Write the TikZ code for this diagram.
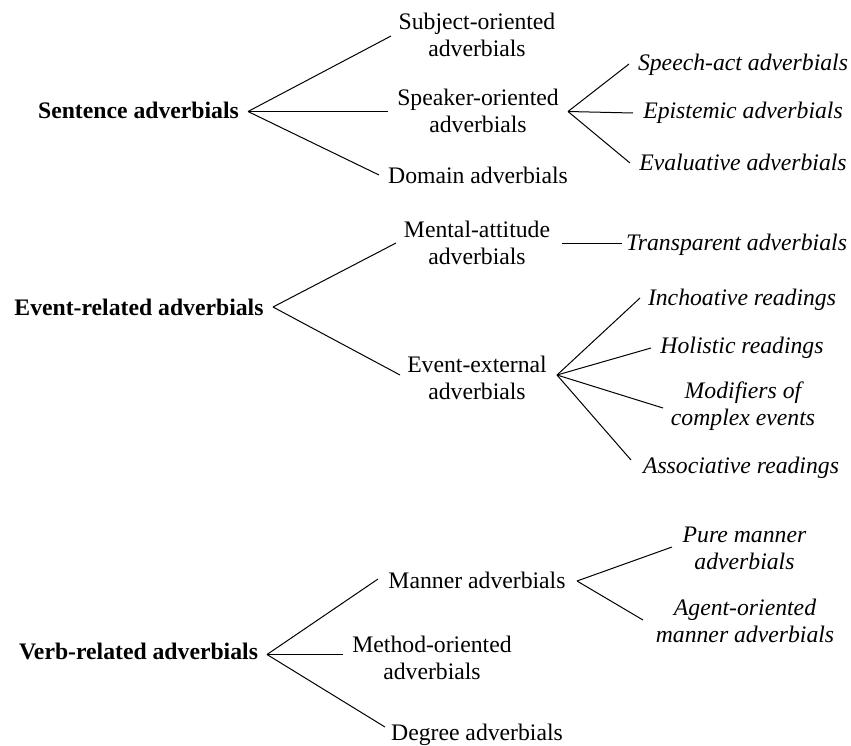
\documentclass[tikz,border=0pt]{standalone}
\usepackage{fontspec}
\setmainfont{Liberation Serif}
\usetikzlibrary{calc}
\newcommand{\twoline}[2]{\begin{tabular}[t]{@{}c@{}}#1\\#2\end{tabular}}
\begin{document}
\begin{tikzpicture}[x=0.5pt,y=-0.5pt,
  lbl/.style={anchor=base,inner sep=0pt,font=\fontsize{11.85}{13.75}\selectfont},
  root/.style={lbl,font=\fontsize{11.85}{13.75}\selectfont\bfseries},
  it/.style={lbl,font=\fontsize{11.85}{13.75}\selectfont\itshape},
  edge/.style={line width=0.5pt}]
\useasboundingbox (0,0) rectangle (851,745);
% nodes
\node[root] (sent) at (138.5,118) {Sentence adverbials};
\node[lbl] (subj) at (477,29) {\twoline{Subject-oriented}{adverbials}};
\node[lbl] (speak) at (478,105) {\twoline{Speaker-oriented}{adverbials}};
\node[lbl] (domain) at (478,183) {Domain adverbials};
\node[it] (speech) at (743,70) {Speech-act adverbials};
\node[it] (epis) at (743,118) {Epistemic adverbials};
\node[it] (evalv) at (743,170) {Evaluative adverbials};
\node[root] (event) at (139,315) {Event-related adverbials};
\node[lbl] (mental) at (477,237) {\twoline{Mental-attitude}{adverbials}};
\node[it] (trans) at (736.5,250) {Transparent adverbials};
\node[lbl] (evext) at (477,372) {\twoline{Event-external}{adverbials}};
\node[it] (inch) at (742,305) {Inchoative readings};
\node[it] (hol) at (742,353) {Holistic readings};
\node[it] (mod) at (743,398) {\twoline{Modifiers of}{complex events}};
\node[it] (assoc) at (741,473) {Associative readings};
\node[root] (verb) at (138.5,659) {Verb-related adverbials};
\node[lbl] (manner) at (477,588) {Manner adverbials};
\node[lbl] (method) at (432,652) {\twoline{Method-oriented}{adverbials}};
\node[lbl] (degree) at (477,740) {Degree adverbials};
\node[it] (pure) at (744.5,542) {\twoline{Pure manner}{adverbials}};
\node[it] (agent) at (745,615) {\twoline{Agent-oriented}{manner adverbials}};
% connectors
\draw[edge] ($(sent.base)+(109.5,-6.5)$) -- ($(subj.base)+(-86,7)$);
\draw[edge] ($(sent.base)+(109.5,-6.5)$) -- ($(speak.base)+(-90,6.5)$);
\draw[edge] ($(sent.base)+(109.5,-6.5)$) -- ($(domain.base)+(-99,-8)$);
\draw[edge] ($(speak.base)+(90,6.5)$) -- ($(speech.base)+(-114,-6)$);
\draw[edge] ($(speak.base)+(90,6.5)$) -- ($(epis.base)+(-110,-5)$);
\draw[edge] ($(speak.base)+(90,6.5)$) -- ($(evalv.base)+(-113,-7)$);
\draw[edge] ($(event.base)+(134,-8)$) -- ($(mental.base)+(-81,6)$);
\draw[edge] ($(event.base)+(134,-8)$) -- ($(evext.base)+(-77,3)$);
\draw[edge] ($(mental.base)+(85,6.5)$) -- ($(trans.base)+(-114.5,-6.5)$);
\draw[edge] ($(evext.base)+(80,3)$) -- ($(inch.base)+(-102,-7)$);
\draw[edge] ($(evext.base)+(80,3)$) -- ($(hol.base)+(-91,-5)$);
\draw[edge] ($(evext.base)+(80,3)$) -- ($(mod.base)+(-80,10)$);
\draw[edge] ($(evext.base)+(80,3)$) -- ($(assoc.base)+(-110,-13)$);
\draw[edge] ($(verb.base)+(128.5,-4.5)$) -- ($(manner.base)+(-99,-9)$);
\draw[edge] ($(verb.base)+(128.5,-4.5)$) -- ($(method.base)+(-89,2.5)$);
\draw[edge] ($(verb.base)+(128.5,-4.5)$) -- ($(degree.base)+(-92,-13)$);
\draw[edge] ($(manner.base)+(100,-7)$) -- ($(pure.base)+(-72.5,5)$);
\draw[edge] ($(manner.base)+(100,-7)$) -- ($(agent.base)+(-102,5)$);
\end{tikzpicture}
\end{document}
